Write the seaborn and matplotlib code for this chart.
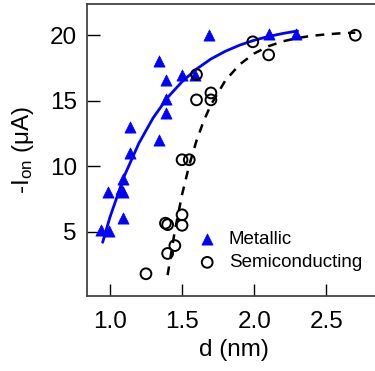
import numpy as np
import pandas as pd
import matplotlib
matplotlib.use("Agg")
import matplotlib.pyplot as plt
import seaborn as sns

# Data

met_d = [1.69, 2.10, 2.29, 1.34, 1.39, 1.50, 1.59, 1.39, 1.39,
         1.14, 1.34, 1.14, 1.09, 1.08, 1.09, 0.99, 1.09, 0.94, 0.995]
met_i = [20.0, 20.1, 20.1, 18.0, 16.6, 17.0, 17.0, 15.1, 14.1,
         13.0, 12.0, 11.05, 9.0, 8.3, 8.07, 8.07, 6.04, 5.15, 5.07]

semi_d = [2.70, 1.99, 2.10, 1.60, 1.60, 1.70, 1.70, 1.50, 1.55,
          1.385, 1.40, 1.50, 1.50, 1.45, 1.40, 1.25]
semi_i = [20.0, 19.5, 18.5, 17.0, 15.07, 15.6, 15.07, 10.5, 10.5,
          5.66, 5.55, 6.3, 5.5, 3.95, 3.35, 1.8]

# fit curves
met_fit_d = [0.95, 1.0, 1.1, 1.2, 1.3, 1.4, 1.5, 1.6, 1.7, 1.8, 1.9, 2.0, 2.1, 2.2, 2.3]
met_fit_i = [4.2, 6.1, 9.26, 11.74, 13.7, 15.25, 16.46, 17.42, 18.19, 18.78,
             19.25, 19.62, 19.91, 20.14, 20.33]

semi_fit_d = [1.40, 1.45, 1.5, 1.55, 1.6, 1.65, 1.7, 1.8, 1.9, 2.0, 2.1,
              2.2, 2.3, 2.4, 2.5, 2.6, 2.7]
semi_fit_i = [1.7, 5.08, 7.84, 10.1, 11.95, 13.46, 14.7, 16.55, 17.78, 18.61,
              19.17, 19.54, 19.79, 19.96, 20.07, 20.15, 20.2]

x_ticks = [1.0, 1.5, 2.0, 2.5]
y_ticks = [5, 10, 15, 20]

sns.set_style("white")
plt.rcParams["font.family"] = ["Liberation Sans", "DejaVu Sans"]
plt.rcParams["mathtext.fontset"] = "custom"
plt.rcParams["mathtext.rm"] = "Liberation Sans"
plt.rcParams["mathtext.it"] = "Liberation Sans"
plt.rcParams["text.color"] = "black"
plt.rcParams["axes.labelcolor"] = "black"
plt.rcParams["xtick.color"] = "black"
plt.rcParams["ytick.color"] = "black"

fig = plt.figure(figsize=(3.75, 3.71), dpi=100)
ax = fig.add_axes([0.231, 0.202, 0.785, 0.786])

met_fit = pd.DataFrame({"d": met_fit_d, "I": met_fit_i})
semi_fit = pd.DataFrame({"d": semi_fit_d, "I": semi_fit_i})

sns.lineplot(data=met_fit, x="d", y="I", color="#0000ff", lw=2.0,
             estimator=None, sort=True, legend=False, ax=ax)
sns.lineplot(data=semi_fit, x="d", y="I", color="black", lw=1.8,
             estimator=None, sort=True, legend=False, ax=ax,
             dashes=False, linestyle=(0, (3.5, 3)))

sns.scatterplot(x=met_d, y=met_i, marker="^", s=65, color="#0000ff",
                edgecolor="#0000ff", linewidth=0.5, label="Metallic", ax=ax, zorder=3)
sns.scatterplot(x=semi_d, y=semi_i, marker="o", s=60, facecolor="none",
                edgecolor="black", linewidth=1.4, label="Semiconducting", ax=ax, zorder=3)

ax.set_xlim(0.839, 2.878)
ax.set_ylim(0.1, 22.35)
ax.set_xticks(x_ticks)
ax.set_yticks(y_ticks)
ax.set_xticklabels([f"{t:.1f}" for t in x_ticks])
ax.set_yticklabels([str(t) for t in y_ticks])

ax.tick_params(direction="in", length=9, width=1, color="black",
               labelsize=17.5, pad=7, bottom=True, left=True,
               top=False, right=False)
ax.tick_params(axis="x", pad=11)
for sp in ax.spines.values():
    sp.set_color("#444444")
    sp.set_linewidth(1.3)

ax.set_xlabel("d (nm)", fontsize=17.5, labelpad=4)
ax.set_ylabel("-I$_{\\rm on}$ ($\\mu$A)", fontsize=17.5, labelpad=10)

ax.legend(loc="lower left", bbox_to_anchor=(0.365, 0.085), frameon=False,
          fontsize=13.5, handletextpad=0.45, labelspacing=0.35, borderpad=0,
          borderaxespad=0, handlelength=1.4)

fig.savefig("out.png", dpi=100)
plt.close(fig)
